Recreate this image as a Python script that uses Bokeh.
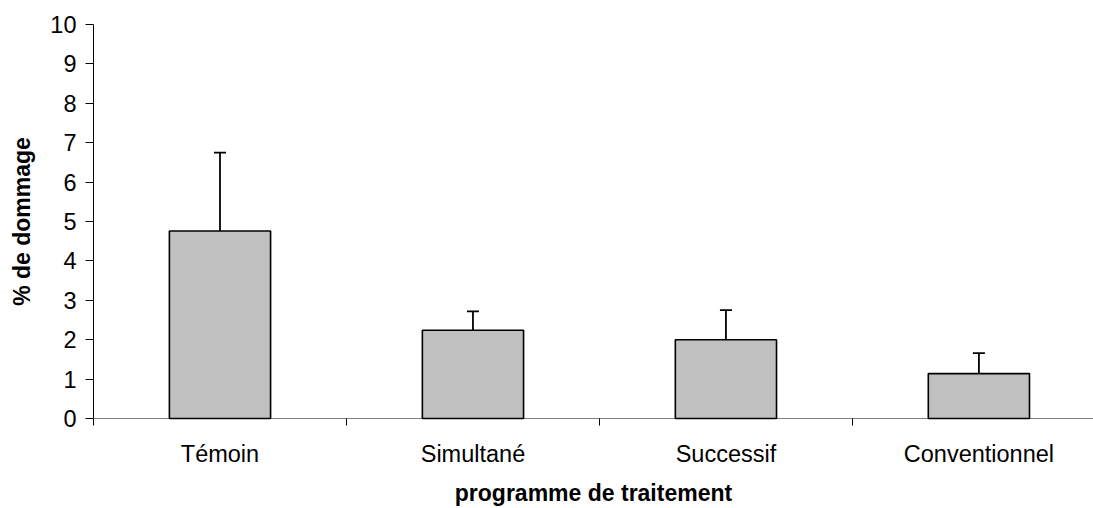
from bokeh.plotting import figure
from bokeh.models import (ColumnDataSource, FixedTicker, Range1d, Whisker, TeeHead,
                          CustomJSTickFormatter)
from bokeh.embed import file_html
from bokeh.resources import INLINE

# ---- data ----
categories = ["Témoin", "Simultané", "Successif", "Conventionnel"]
values = [4.76, 2.24, 2.0, 1.14]
err_top = [6.75, 2.72, 2.75, 1.66]
y_ticks = [0, 1, 2, 3, 4, 5, 6, 7, 8, 9, 10]
x_label = "programme de traitement"
y_label = "% de dommage"

centers = [i + 0.5 for i in range(len(categories))]
bounds = [i for i in range(len(categories))]

src = ColumnDataSource(dict(x=centers, top=values, upper=err_top, cat=categories))

FONT = "Liberation Sans"

p = figure(width=1093, height=508, output_backend="svg", toolbar_location=None,
           x_range=Range1d(0, 3.953), y_range=Range1d(0, 10),
           min_border_left=93, min_border_top=24, min_border_right=0,
           min_border_bottom=90)
p.outline_line_color = None
p.background_fill_color = "white"
p.border_fill_color = "white"
p.xgrid.visible = False
p.ygrid.visible = False

p.vbar(x="x", top="top", bottom=0, width=0.4, source=src,
       fill_color="#C0C0C0", line_color="black", line_width=1.6, level="overlay")

wh = Whisker(source=src, base="x", lower="top", upper="upper", dimension="height",
             line_color="black", line_width=1.8, level="overlay",
             upper_head=TeeHead(size=12, line_color="black", line_width=1.8),
             lower_head=None)
p.add_layout(wh)

# x axis
xa = p.xaxis[0]
xa.ticker = FixedTicker(ticks=centers, minor_ticks=bounds)
xa.formatter = CustomJSTickFormatter(args=dict(labels=categories),
                                     code="return labels[Math.floor(tick)];")
xa.major_tick_out = 0
xa.major_tick_in = 0
xa.minor_tick_out = 7
xa.minor_tick_in = 0
xa.minor_tick_line_color = "black"
xa.minor_tick_line_width = 1
xa.axis_line_color = "#808080"
xa.axis_line_width = 1.2
xa.major_label_text_font = FONT
xa.major_label_text_font_size = "23.5px"
xa.major_label_text_color = "black"
xa.major_label_standoff = 15
xa.axis_label = x_label
xa.axis_label_text_font = FONT
xa.axis_label_text_font_size = "23px"
xa.axis_label_text_font_style = "bold"
xa.axis_label_text_color = "black"
xa.axis_label_standoff = 10

# y axis
ya = p.yaxis[0]
ya.ticker = FixedTicker(ticks=y_ticks)
ya.major_tick_out = 8
ya.major_tick_in = 0
ya.minor_tick_out = 0
ya.minor_tick_in = 0
ya.major_tick_line_color = "black"
ya.axis_line_color = "black"
ya.axis_line_width = 1
ya.major_label_text_font = FONT
ya.major_label_text_font_size = "23.5px"
ya.major_label_text_color = "black"
ya.major_label_standoff = 9
ya.axis_label = y_label
ya.axis_label_text_font = FONT
ya.axis_label_text_font_size = "23px"
ya.axis_label_text_font_style = "bold"
ya.axis_label_text_color = "black"
ya.axis_label_standoff = 12

open("out.html", "w").write(file_html(p, INLINE))
